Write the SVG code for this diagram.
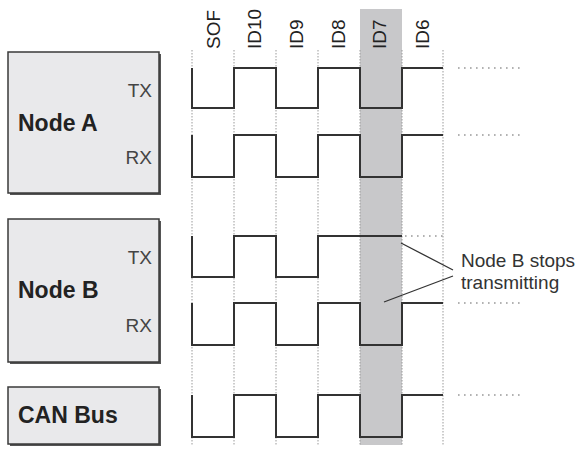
<svg xmlns="http://www.w3.org/2000/svg" width="585" height="450" viewBox="0 0 585 450">
  <style>
    .box { fill: #e9e9eb; stroke: #3a3a3a; stroke-width: 1.5; }
    .shadow { fill: #555; }
    .name { font-family: "Liberation Sans", Arial, sans-serif; font-weight: bold; font-size: 23px; fill: #222; }
    .port { font-family: "Liberation Sans", Arial, sans-serif; font-size: 19px; fill: #444; text-anchor: end; }
    .col { font-family: "Liberation Sans", Arial, sans-serif; font-size: 19px; fill: #222; }
    .note { font-family: "Liberation Sans", Arial, sans-serif; font-size: 19px; fill: #333; }
    .grid { stroke: #9a9a9a; stroke-width: 1; stroke-dasharray: 1.5 1.5; fill: none; }
    .sig { stroke: #333; stroke-width: 2; fill: none; }
    .cont { stroke: #999; stroke-width: 1.6; stroke-dasharray: 1.6 4.4; fill: none; }
    .lead { stroke: #333; stroke-width: 1.3; fill: none; }
  </style>

  <!-- highlighted bit period (ID7) -->
  <rect x="360" y="9" width="42" height="436" fill="#c8c8ca"/>

  <!-- bit boundaries -->
  <g id="grid">
    <line class="grid" x1="192" y1="50" x2="192" y2="445"/>
    <line class="grid" x1="234" y1="50" x2="234" y2="445"/>
    <line class="grid" x1="276" y1="50" x2="276" y2="445"/>
    <line class="grid" x1="318" y1="50" x2="318" y2="445"/>
    <line class="grid" x1="360" y1="50" x2="360" y2="445"/>
    <line class="grid" x1="402" y1="50" x2="402" y2="445"/>
    <line class="grid" x1="443" y1="50" x2="443" y2="445"/>
  </g>

  <!-- bit labels, reading upward from the top of the grid -->
  <g id="bit-labels">
    <text class="col" transform="translate(220,49) rotate(-90)">SOF</text>
    <text class="col" transform="translate(261,49) rotate(-90)">ID10</text>
    <text class="col" transform="translate(303,49) rotate(-90)">ID9</text>
    <text class="col" transform="translate(345,49) rotate(-90)">ID8</text>
    <text class="col" transform="translate(386,49) rotate(-90)">ID7</text>
    <text class="col" transform="translate(429,49) rotate(-90)">ID6</text>
  </g>

  <!-- nodes -->
  <g id="node-a">
    <rect class="shadow" x="10" y="54" width="151" height="141"/>
    <rect class="box" x="8" y="52" width="151" height="141"/>
    <text class="name" x="18" y="131">Node A</text>
    <text class="port" x="152" y="97">TX</text>
    <text class="port" x="152" y="164">RX</text>
  </g>
  <g id="node-b">
    <rect class="shadow" x="10" y="221" width="151" height="143"/>
    <rect class="box" x="8" y="219" width="151" height="143"/>
    <text class="name" x="18" y="298">Node B</text>
    <text class="port" x="152" y="264">TX</text>
    <text class="port" x="152" y="332">RX</text>
  </g>
  <g id="can-bus">
    <rect class="shadow" x="10" y="389" width="151" height="57"/>
    <rect class="box" x="8" y="387" width="151" height="57"/>
    <text class="name" x="18" y="423">CAN Bus</text>
  </g>

  <!-- waveforms -->
  <g id="signals">
    <path class="sig" d="M192,68 V108 H234 V68 H276 V108 H318 V68 H360 V108 H402 V68 H443"/>
    <path class="sig" d="M192,135 V177 H234 V135 H276 V177 H318 V135 H360 V177 H402 V135 H443"/>
    <path class="sig" d="M192,236 V277 H234 V236 H276 V277 H318 V236 H402"/>
    <path class="cont" d="M405,236 H443"/>
    <path class="sig" d="M192,303 V345 H234 V303 H276 V345 H318 V303 H360 V345 H402 V303 H443"/>
    <path class="sig" d="M192,395 V437 H234 V395 H276 V437 H318 V395 H360 V437 H402 V395 H443"/>
    <path class="cont" d="M458,68 H520 M458,135 H520 M458,303 H520 M458,395 H520"/>
  </g>

  <!-- annotation -->
  <g id="annotation">
    <path class="lead" d="M401,243 L453,270 M453,276 L384,302"/>
    <text class="note" x="461" y="267">Node B stops</text>
    <text class="note" x="461" y="289">transmitting</text>
  </g>
</svg>
